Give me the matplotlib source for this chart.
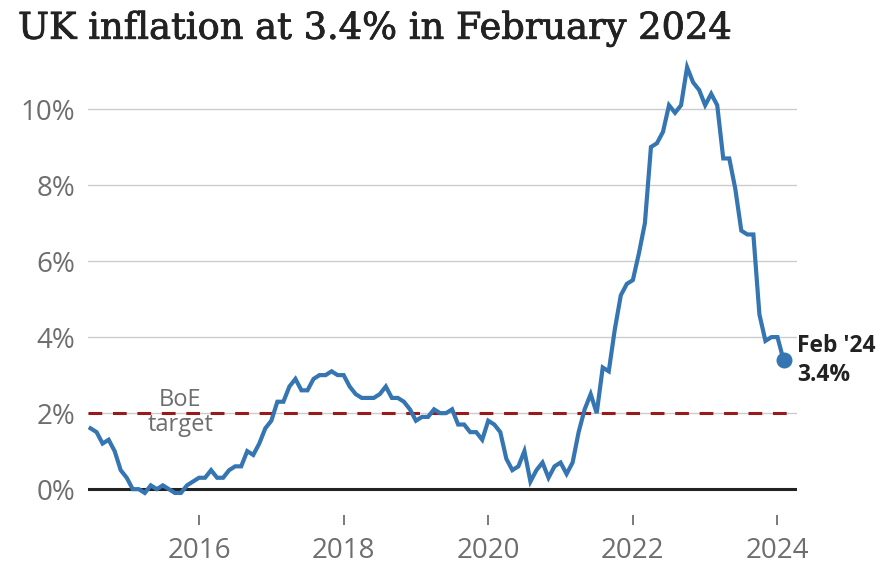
import matplotlib.pyplot as plt
import matplotlib.patheffects as pe
import numpy as np

# UK CPI annual rate, monthly, Jul 2014 - Feb 2024
start_year = 2014
start_month = 7
cpi = [
    1.6, 1.5, 1.2, 1.3, 1.0, 0.5,                                  # 2014 Jul-Dec
    0.3, 0.0, 0.0, -0.1, 0.1, 0.0, 0.1, 0.0, -0.1, -0.1, 0.1, 0.2,  # 2015
    0.3, 0.3, 0.5, 0.3, 0.3, 0.5, 0.6, 0.6, 1.0, 0.9, 1.2, 1.6,     # 2016
    1.8, 2.3, 2.3, 2.7, 2.9, 2.6, 2.6, 2.9, 3.0, 3.0, 3.1, 3.0,     # 2017
    3.0, 2.7, 2.5, 2.4, 2.4, 2.4, 2.5, 2.7, 2.4, 2.4, 2.3, 2.1,     # 2018
    1.8, 1.9, 1.9, 2.1, 2.0, 2.0, 2.1, 1.7, 1.7, 1.5, 1.5, 1.3,     # 2019
    1.8, 1.7, 1.5, 0.8, 0.5, 0.6, 1.0, 0.2, 0.5, 0.7, 0.3, 0.6,     # 2020
    0.7, 0.4, 0.7, 1.5, 2.1, 2.5, 2.0, 3.2, 3.1, 4.2, 5.1, 5.4,     # 2021
    5.5, 6.2, 7.0, 9.0, 9.1, 9.4, 10.1, 9.9, 10.1, 11.1, 10.7, 10.5,  # 2022
    10.1, 10.4, 10.1, 8.7, 8.7, 7.9, 6.8, 6.7, 6.7, 4.6, 3.9, 4.0,  # 2023
    4.0, 3.4,                                                       # 2024
]
boe_target = 2.0
x_ticks = [2016, 2018, 2020, 2022, 2024]
y_ticks = [0, 2, 4, 6, 8, 10]

t = start_year + (start_month - 1) / 12 + np.arange(len(cpi)) / 12

fig = plt.figure(figsize=(8.91, 5.67), dpi=100)
ax = fig.add_axes([0.0988, 0.0917, 0.7957, 0.8166])

blue = '#3575b2'
grey = '#6e6e6e'

for v in y_ticks[1:]:
    ax.axhline(v, color='#cccccc', lw=1, zorder=1)
ax.axhline(0, color='#222222', lw=2.2, zorder=2)
ax.axhline(boe_target, color='#991a1a', lw=2.2, dashes=(4.5, 3.5), zorder=3)

ax.plot(t, cpi, color=blue, lw=3, zorder=4, solid_joinstyle='miter')
ax.plot(t[-1], cpi[-1], 'o', color=blue, ms=10.5, zorder=5)

ax.text(2015.74, 2.02, 'BoE', ha='center', va='bottom', fontsize=17,
        color=grey, family='Open Sans')
ax.text(2015.74, 2.0, 'target', ha='center', va='top', fontsize=17,
        color=grey, family='Open Sans')
ax.text(t[-1] + 0.19, cpi[-1] - 0.02, "Feb '24\n3.4%", ha='left', va='center',
        fontsize=16.5, fontweight='bold', color='#222222', family='Open Sans',
        linespacing=1.3, clip_on=False)

ax.set_xlim(2014.465, 2024.27)
ax.set_ylim(-0.68, 11.5)
ax.set_xticks(x_ticks)
ax.set_xticklabels([str(x) for x in x_ticks])
ax.set_yticks(y_ticks)
ax.set_yticklabels([f'{v}%' for v in y_ticks])
ax.tick_params(axis='x', length=7, width=1.3, color=grey, pad=9,
               labelsize=20, labelcolor=grey)
ax.tick_params(axis='y', length=0, pad=9, labelsize=20, labelcolor=grey)
for lab in ax.get_xticklabels() + ax.get_yticklabels():
    lab.set_family('Open Sans')
for s in ax.spines.values():
    s.set_visible(False)

fig.text(18 / 891, 1 - 29 / 567, 'UK inflation at 3.4% in February 2024',
         ha='left', va='center', fontsize=26.5, color='#222222',
         family='DejaVu Serif',
         path_effects=[pe.withStroke(linewidth=0.6, foreground='#222222')])

fig.savefig('out.png', dpi=100)
